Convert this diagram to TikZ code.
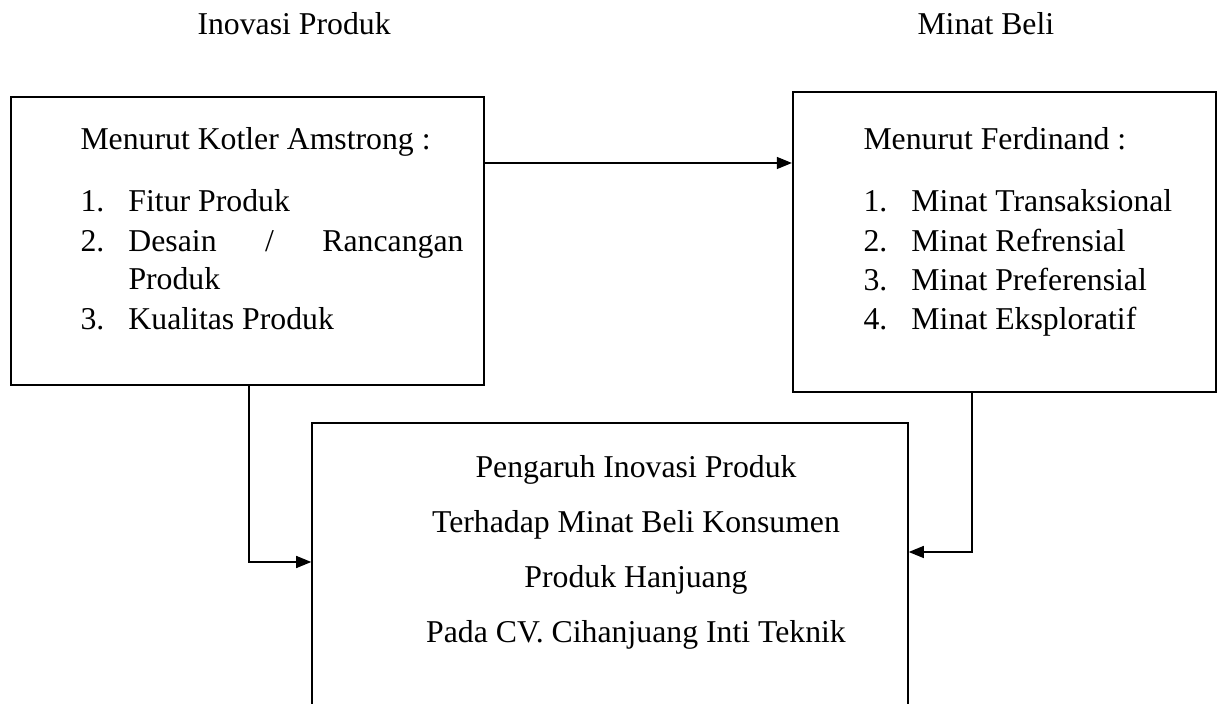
\documentclass[tikz,border=0pt]{standalone}
\usepackage{fontspec}
\setmainfont{Liberation Serif}
\usepackage{tikz}
\usetikzlibrary{positioning,calc,arrows.meta}

\begin{document}
\begin{tikzpicture}[x=0.4pt,y=-0.4pt,
    txt/.style={inner sep=0pt,anchor=base west,font=\fontsize{12.7}{15}\selectfont},
    ctxt/.style={inner sep=0pt,anchor=base,font=\fontsize{12.7}{15}\selectfont},
    box/.style={rectangle,draw,line width=0.6pt,inner sep=0pt},
    arr/.style={-{Triangle[length=6pt,width=4.8pt]},line width=0.5pt}]

\path[use as bounding box,clip] (0,0) rectangle (1221,704);

% Judul variabel
\node[txt] (judulX) at (197,35) {Inovasi Produk};
\node[txt] (judulY) at (917,35) {Minat Beli};

% Kotak Inovasi Produk
\node[box,minimum width=189.2pt,minimum height=115.2pt] (kotler) at (247.5,241) {};
\node[txt] (kotH) at (80,150) {Menurut Kotler Amstrong :};
\node[txt] (kot1) at (80,212) {\makebox[19.2pt][l]{1.}Fitur Produk};
\node[txt] (kot2) at (80,252) {\makebox[19.2pt][l]{2.}\makebox[134pt][s]{Desain\hfill/\hfill Rancangan}};
\node[txt] (kot2b) at (128,290) {Produk};
\node[txt] (kot3) at (80,330) {\makebox[19.2pt][l]{3.}Kualitas Produk};

% Kotak Minat Beli
\node[box,line width=0.9pt,minimum width=169.2pt,minimum height=120pt] (ferd) at (1004.5,242) {};
\node[txt] (ferH) at (863,150) {Menurut Ferdinand :};
\node[txt] (fer1) at (863,212) {\makebox[19.2pt][l]{1.}Minat Transaksional};
\node[txt] (fer2) at (863,252) {\makebox[19.2pt][l]{2.}Minat Refrensial};
\node[txt] (fer3) at (863,291) {\makebox[19.2pt][l]{3.}Minat Preferensial};
\node[txt] (fer4) at (863,330) {\makebox[19.2pt][l]{4.}Minat Eksploratif};

% Kotak judul penelitian
\node[box,minimum width=238.4pt,minimum height=134.8pt] (hasil) at (610,591.5) {};
\node[ctxt] (has1) at (636,478) {Pengaruh Inovasi Produk};
\node[ctxt] (has2) at (636,533) {Terhadap Minat Beli Konsumen};
\node[ctxt] (has3) at (636,588) {Produk Hanjuang};
\node[ctxt] (has4) at (636,643) {Pada CV. Cihanjuang Inti Teknik};

% Panah
\draw[arr] (kotler.east |- 0,163) -- (ferd.west |- 0,163);
\draw[arr] (249,0 |- kotler.south) |- (hasil.west |- 0,562);
\draw[arr] (972,0 |- ferd.south) |- (hasil.east |- 0,552);

\end{tikzpicture}
\end{document}
